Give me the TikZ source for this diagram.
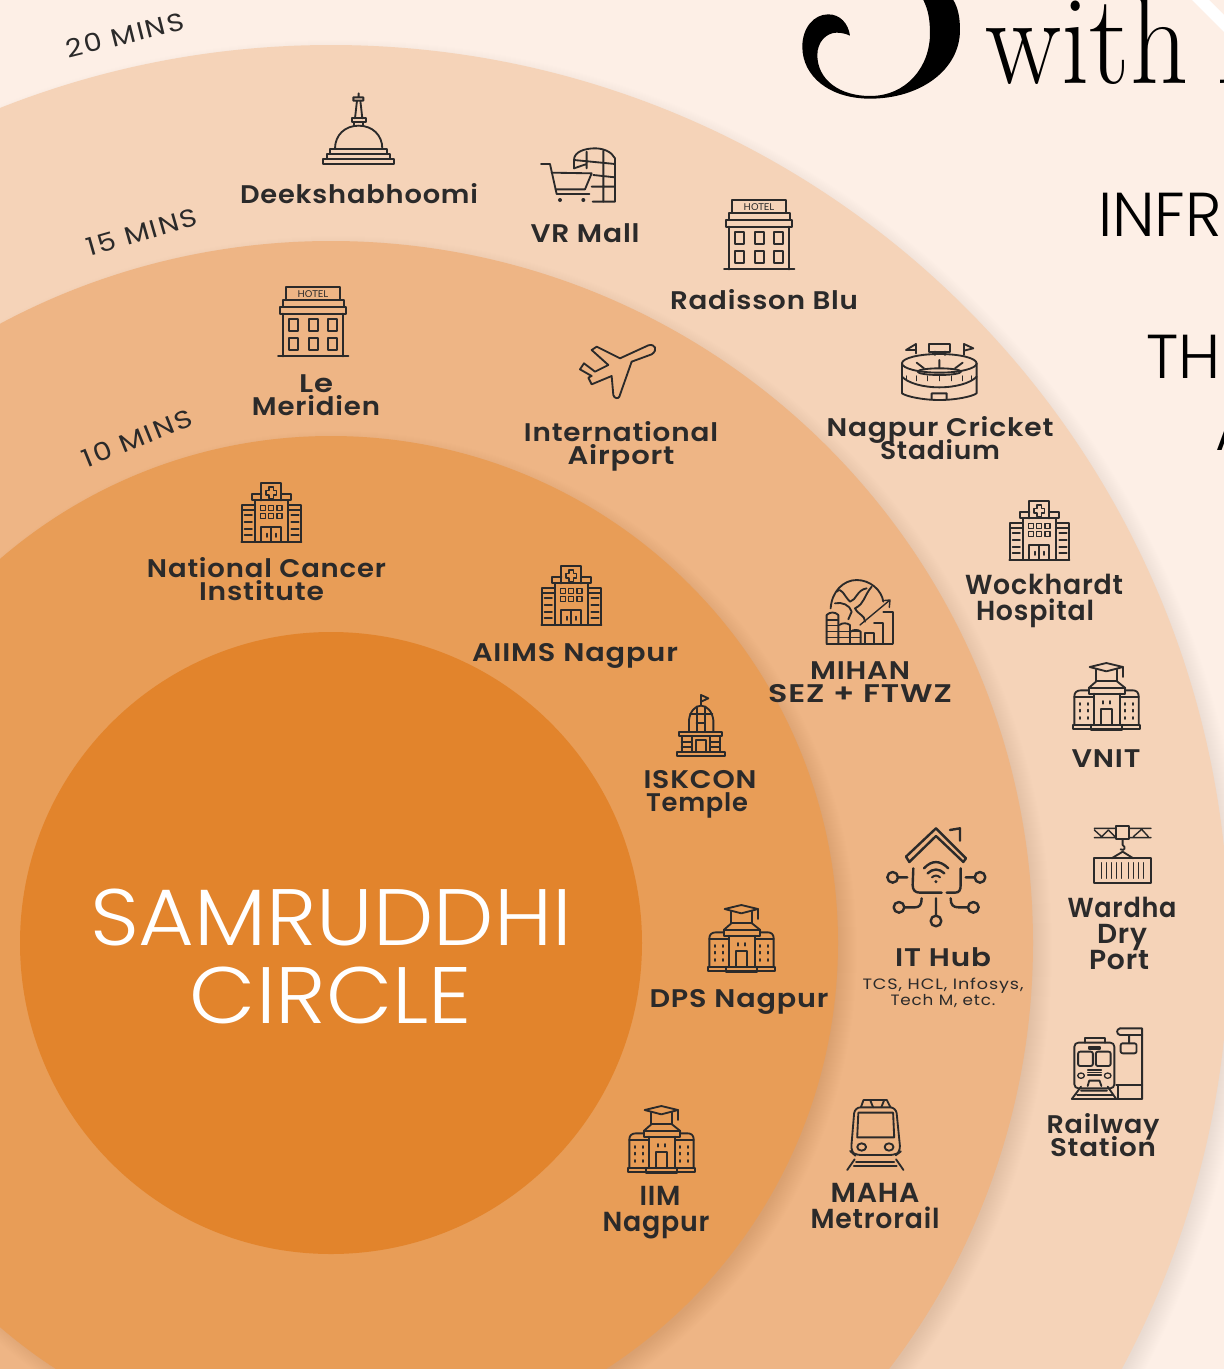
\documentclass[tikz,border=0pt]{standalone}
\usepackage{fontspec}
\usepackage{graphicx}
\newfontfamily\lbfont[LetterSpace=3]{Poppins SemiBold}
\newfontfamily\minsfont[LetterSpace=6]{Poppins}
\newfontfamily\smfont[LetterSpace=5]{Poppins}
\newfontfamily\lightfont{Poppins Light}
\newfontfamily\hotelfont{Lato}
\definecolor{bgc}{HTML}{FDEFE6}
\definecolor{ringa}{HTML}{F5D3B8}
\definecolor{ringb}{HTML}{EEB585}
\definecolor{ringc}{HTML}{E89D57}
\definecolor{core}{HTML}{E2842C}
\definecolor{ink}{HTML}{2B2A2A}
\newcommand\nolsl{\setlength{\lineskiplimit}{-100pt}\setlength{\lineskip}{0pt}}
\newcommand\fw[2]{\resizebox{#1pt}{!}{#2}}
\newcommand\ringdisc[4]{\foreach \i in {1,...,20}{\fill[#3,opacity=#4] (338,950) circle[radius=#1+\i-8];}\fill[#2] (331,943) circle[radius=#1];}
\newcommand\fx[2]{\sbox0{#2}\resizebox{#1pt}{\ht0}{#2}}
\tikzset{
  lb/.style={font=\lbfont\fontsize{25.5}{23}\selectfont\nolsl,text=ink,inner sep=0pt,align=center},
  lbb/.style={font=\lbfont\fontsize{27.5}{26}\selectfont\nolsl,text=ink,inner sep=0pt,align=center},
  lsm/.style={font=\smfont\fontsize{15}{16}\selectfont\nolsl,text=ink,inner sep=0pt,align=center},
  mins/.style={font=\minsfont\fontsize{25}{25}\selectfont,text=ink,inner sep=0pt},
  head/.style={font=\lightfont\fontsize{62}{62}\selectfont,text=black,inner sep=0pt,anchor=base west},
  sam/.style={font=\lightfont\fontsize{80}{78}\selectfont,text=white,inner sep=0pt,anchor=base},
  ic/.style={draw=ink,line width=1.85pt,line join=round,line cap=round},
  z3/.style={x=.33333pt,y=-.33333pt},
  zx/.style={x=.36996pt,y=-.33333pt},
  pics/hotel/.style={code={\begin{scope}[z3,shift={(-175,-622)}]
    \draw[ic] (200,622) rectangle (360,662) (190,662) rectangle (372,682) (182,682) rectangle (378,702)
      (190,702) -- (190,830) (370,702) -- (370,830) (175,830) -- (386,830);
    \foreach \xx in {208,268,325}{\foreach \yy in {718,775}{\draw[ic] (\xx,\yy) rectangle ++(28,37);}}
    \node[inner sep=0pt,text=ink,font=\hotelfont\fontsize{9.5}{9.5}\selectfont] at (280,643) {HOTEL};
  \end{scope}}},
  pics/hospital/.style={code={\begin{scope}[z3,shift={(-27,-18)}]
    \draw[ic] (88,70) -- (88,18) -- (148,18) -- (148,70);
    \draw[ic] (88,52) -- (60,52) -- (60,70) -- (176,70) -- (176,52) -- (148,52);
    \draw[ic] (68,70) -- (68,195) (168,70) -- (168,195) (28,195) -- (208,195);
    \draw[ic] (68,85) -- (30,85) -- (30,195) (168,85) -- (206,85) -- (206,195) (30,100) -- (68,100) (168,100) -- (206,100);
    \draw[ic,line width=1.5pt] (111,30) -- (125,30) -- (125,40) -- (134,40) -- (134,54) -- (125,54) -- (125,64) -- (111,64) -- (111,54) -- (102,54) -- (102,40) -- (111,40) -- cycle;
    \foreach \xx in {85,110,135}{\foreach \yy in {86,110}{\draw[ic,line width=1.5pt] (\xx,\yy) rectangle ++(15,15);}}
    \draw[ic] (88,195) -- (88,150) -- (148,150) -- (148,195) (118,150) -- (118,195);
    \foreach \yy in {115,135,155,175}{\draw[ic] (38,\yy) -- (60,\yy) (178,\yy) -- (200,\yy);}
    \draw[ic] (105,170) -- (105,180) (131,170) -- (131,180);
  \end{scope}}},
  pics/univ/.style={code={\begin{scope}[z3,shift={(-818,-310)}]
    \draw[ic] (868,322) -- (918,310) -- (968,322) -- (918,335) -- cycle;
    \draw[ic] (888,330) -- (888,365) -- (950,365) -- (950,330) (968,322) -- (968,352);
    \draw[ic] (888,365) -- (865,385) (950,365) -- (975,385);
    \draw[ic] (865,385) rectangle (975,402);
    \draw[ic] (880,402) -- (880,495) (960,402) -- (960,495);
    \draw[ic] (865,392) -- (842,392) .. controls (830,392) and (822,398) .. (822,410) -- (822,495);
    \draw[ic] (975,392) -- (997,392) .. controls (1008,392) and (1015,398) .. (1015,410) -- (1015,495);
    \draw[ic] (822,412) -- (880,412) (960,412) -- (1015,412);
    \draw[ic] (818,495) rectangle (1020,508) (872,495) -- (872,512) -- (966,512) -- (966,495);
    \draw[ic] (903,495) -- (903,448) -- (935,448) -- (935,495);
    \foreach \yy in {430,450,472}{\draw[ic] (838,\yy) -- (838,\yy+6) (862,\yy) -- (862,\yy+6) (975,\yy) -- (975,\yy+6) (998,\yy) -- (998,\yy+6);}
    \draw[ic] (907,424) -- (907,432) (930,424) -- (930,432);
  \end{scope}}}
}
\begin{document}
\begin{tikzpicture}[x=1pt,y=-1pt]
\useasboundingbox (0,0) rectangle (1224,1369);
\clip (0,0) rectangle (1224,1369);
\fill[bgc] (0,0) rectangle (1224,1369);
\ringdisc{898}{ringa}{black}{.0035}
\ringdisc{702}{ringb}{black}{.0045}
\ringdisc{507}{ringc}{black}{.0045}
\ringdisc{311}{core}{white}{.002}

% heading fragments
\begin{scope}[x=.33333pt,y=-.33333pt,shift={(2370,0)}]
\fill[black] (180,107) .. controls (175,70) and (150,43) .. (115,43) .. controls (70,43) and (37,85) .. (37,140)
 .. controls (37,230) and (120,296) .. (240,296) .. controls (390,296) and (510,210) .. (510,90)
 .. controls (510,55) and (505,25) .. (490,0) -- (400,0) .. controls (415,30) and (420,60) .. (420,100)
 .. controls (420,200) and (350,288) .. (240,288) .. controls (150,288) and (82,240) .. (82,165)
 .. controls (82,125) and (110,98) .. (140,98) .. controls (155,98) and (170,102) .. (180,107) -- cycle;
\end{scope}
\node[inner sep=0pt,anchor=base west,font=\fontsize{128}{128}\selectfont,text=black] (with) at (985,83) {\fx{203}{with}};
\node[inner sep=0pt,anchor=base west,font=\fontsize{128}{128}\selectfont,text=black] (withI) at (1214,83) {I};
\fill[white] (1192,0) -- (1224,32) -- (1224,15) -- (1209,0) -- cycle;
\node[head] (infr) at (1098,236) {INFR};
\node[head] (th) at (1146,378) {TH};
\node[head] (a) at (1215,450) {A};

% minute labels
\node[mins,rotate=14] (m20) at (125,35) {\fx{120}{20 MINS}};
\node[mins,rotate=16] (m15) at (142,232) {\fx{114}{15 MINS}};
\node[mins,rotate=22] (m10) at (137,438) {\fx{116}{10 MINS}};

% centre
\node[sam] (sama) at (331,945) {\fx{482}{SAMRUDDHI}};
\node[sam] (samb) at (331,1023) {\fx{282}{CIRCLE}};

% repeated icons
\pic at (278,287) {hotel};
\pic at (724,200) {hotel};
\pic at (1009,501) {hospital};
\pic at (241,483) {hospital};
\pic at (541,566) {hospital};
\pic at (1073,663) {univ};
\pic at (708,905) {univ};
\pic at (628,1106) {univ};

% stupa
\begin{scope}[z3,shift={(660,240)}]
\draw[ic] (308,236) rectangle (522,252) (322,222) rectangle (510,236) (330,206) rectangle (500,222);
\draw[ic] (345,206) .. controls (345,165) and (375,137) .. (416,137) .. controls (457,137) and (487,165) .. (487,206);
\draw[ic] (395,115) rectangle (437,127) (403,127) -- (403,137) (429,127) -- (429,137);
\draw[ic] (405,115) -- (411,62) (427,115) -- (421,62) (400,52) rectangle (430,62) (416,40) -- (416,52);
% cart and building
\draw[ic] (963,252) -- (990,252) -- (1010,342) -- (1108,342);
\draw[ic] (995,278) -- (1115,280) -- (1095,328) -- (1007,328);
\fill[ink] (1020,360) circle[radius=6] (1090,360) circle[radius=6];
\draw[ic] (1118,365) -- (1185,365) -- (1185,235) .. controls (1175,215) and (1150,205) .. (1125,205) .. controls (1095,205) and (1062,215) .. (1062,240) -- (1062,265);
\draw[ic] (1062,240) -- (1185,252) (1062,265) -- (1100,252) (1100,215) -- (1100,265) (1150,212) -- (1150,365) (1120,285) -- (1185,292) (1115,320) -- (1185,320);
% plane
\draw[ic] (1285,796) -- (1200,835) -- (1130,800) -- (1115,810) -- (1165,855) -- (1125,875) -- (1092,850) -- (1080,868) -- (1115,888) -- (1105,893) -- (1115,913) -- (1175,888) -- (1180,945) .. controls (1182,955) and (1195,958) .. (1198,950) -- (1235,845) -- (1295,823) .. controls (1315,810) and (1305,790) .. (1285,796) -- cycle;
\end{scope}

% stadium
\begin{scope}[z3,shift={(2340,0)}]
\draw[ic] (408,1060) -- (408,1032) -- (378,1050) -- (408,1050);
\draw[ic] (552,1065) -- (552,1032) -- (580,1045) -- (552,1052);
\draw[ic] (448,1032) rectangle (510,1055) (465,1055) -- (465,1065) (495,1055) -- (495,1065);
\draw[ic] (478,1090) ellipse[x radius=112,y radius=28];
\draw[ic] (478,1115) ellipse[x radius=65,y radius=10];
\draw[ic] (366,1090) -- (366,1180) .. controls (380,1190) and (430,1200) .. (478,1200) .. controls (526,1200) and (576,1190) .. (590,1180) -- (590,1090);
\draw[ic] (366,1130) .. controls (385,1150) and (430,1162) .. (478,1162) .. controls (526,1162) and (571,1150) .. (590,1130);
\foreach \xx in {380,410,442,478,515,548,575}{\draw[ic,line width=1.3pt] (\xx,1128) -- (\xx,1142);}
\draw[ic] (410,1088) -- (432,1105) (478,1080) -- (478,1103) (548,1088) -- (525,1105) (455,1198) -- (455,1180) -- (500,1180) -- (500,1198);
\end{scope}

% temple
\begin{scope}[z3,shift={(1995,2070)}]
\draw[ic] (108,45) -- (108,15) -- (130,25) -- (108,35);
\draw[ic] (72,125) -- (72,90) .. controls (75,65) and (90,47) .. (108,47) .. controls (126,47) and (142,65) .. (145,90) -- (145,125);
\draw[ic] (75,72) -- (142,72) (95,50) -- (95,125) (120,50) -- (120,125) (95,100) -- (120,100);
\draw[ic] (42,125) rectangle (172,138) (35,185) rectangle (180,198);
\draw[ic] (50,138) -- (50,185) (80,138) -- (80,185) (135,138) -- (135,185) (165,138) -- (165,185);
\draw[ic] (50,155) -- (80,155) (50,170) -- (80,170) (135,155) -- (165,155) (135,170) -- (165,170);
\draw[ic] (92,185) -- (92,150) -- (122,150) -- (122,185);
\end{scope}

\begin{scope}[z3,shift={(2400,1680)}]
% globe
\draw[ic] (92,145) .. controls (95,95) and (130,60) .. (170,60) .. controls (210,60) and (245,90) .. (250,125);
\draw[ic] (110,95) .. controls (125,80) and (130,105) .. (150,125) .. controls (170,120) and (170,90) .. (200,85);
\draw[ic] (215,80) .. controls (190,110) and (195,130) .. (165,145) .. controls (175,165) and (195,165) .. (195,185);
\draw[ic] (105,130) .. controls (125,125) and (150,135) .. (155,155) -- (145,178);
\draw[ic] (80,165) -- (80,250) (115,165) -- (115,250) (80,165) .. controls (90,155) and (105,155) .. (115,165);
\foreach \yy in {180,197,214,232}{\draw[ic,line width=1.4pt] (80,\yy) -- (115,\yy);}
\draw[ic] (150,195) -- (150,250) (118,195) .. controls (128,188) and (140,188) .. (150,195);
\foreach \yy in {214,232}{\draw[ic,line width=1.4pt] (115,\yy) -- (182,\yy);}
\draw[ic] (182,215) -- (182,250) (152,215) .. controls (160,208) and (175,208) .. (182,215);
\draw[ic] (80,252) -- (278,252) (195,250) -- (195,220) -- (222,220) -- (222,250) (222,190) -- (250,190) -- (250,250) (250,155) -- (278,155) -- (278,250);
\draw[ic,line width=1.4pt] (180,195) -- (270,120) (248,122) -- (270,120) -- (268,142);
% IT hub
\draw[ic,line width=2.4pt] (318,890) -- (408,805) -- (498,895) -- (490,906) -- (408,828) -- (328,906) -- cycle;
\draw[ic,line width=2.4pt] (450,810) -- (480,805) -- (480,842);
\draw[ic,line width=2.4pt] (340,925) -- (338,975) .. controls (338,990) and (345,998) .. (360,998) -- (425,998) (440,998) -- (465,998) .. controls (478,998) and (482,990) .. (482,975) -- (482,925);
\draw[ic,line width=2.4pt] (372,925) .. controls (395,900) and (420,900) .. (445,925) (383,940) .. controls (398,925) and (418,925) .. (433,940);
\fill[ink] (408,965) circle[radius=5];
\draw[ic,line width=2pt] (396,952) .. controls (404,945) and (412,945) .. (420,952);
\foreach \pp/\qq in {278/952,540/952,297/1042,520/1042,408/1083}{\draw[ic,line width=2.4pt] (\pp,\qq) circle[radius=16];}
\draw[ic,line width=2.4pt] (294,952) -- (322,952) (497,952) -- (524,952) (313,1042) -- (345,1042) .. controls (358,1042) and (365,1035) .. (365,1015);
\draw[ic,line width=2.4pt] (504,1042) -- (475,1042) .. controls (460,1042) and (452,1035) .. (452,1015) (408,1067) -- (408,1015);
% crane
\draw[ic,line width=1.4pt] (883,805) -- (945,805) (883,833) -- (945,833) (883,810) -- (905,830) -- (925,810) -- (945,830);
\draw[ic,line width=1.4pt] (990,805) -- (1053,805) (990,833) -- (1053,833) (1000,830) -- (1025,808) -- (1045,830);
\draw[ic] (948,798) rectangle (988,838);
\draw[ic] (968,838) -- (968,855) .. controls (978,860) and (975,875) .. (962,868);
\draw[ic] (935,895) -- (968,875) -- (1000,895);
\draw[ic] (883,895) -- (1053,895) -- (1053,968) -- (883,968) -- cycle;
\foreach \xx in {905,920,935,950,965,985,1000,1015,1030}{\draw[ic,line width=1.3pt] (\xx,908) -- (\xx,955);}
\end{scope}

% railway, metro
\begin{scope}[zx,shift={(1622,3060)}]
\draw[ic,rounded corners=4pt] (1282,68) rectangle (1390,205);
\draw[ic] (1310,68) -- (1310,55) -- (1365,55) -- (1365,68) (1322,80) rectangle (1352,88);
\draw[ic,rounded corners=2pt] (1292,95) rectangle (1332,138) (1340,95) rectangle (1380,138);
\draw[ic,line width=1.3pt] (1318,150) -- (1355,150) (1318,157) -- (1355,157) (1318,165) -- (1355,165);
\draw[ic,line width=1.3pt] (1300,167) ellipse[x radius=9,y radius=8] (1372,167) ellipse[x radius=9,y radius=8];
\draw[ic] (1318,198) -- (1322,182) -- (1350,182) -- (1355,198);
\draw[ic] (1275,237) -- (1300,200) (1395,237) -- (1372,200) (1300,212) -- (1370,212) (1290,225) -- (1385,225) (1275,237) -- (1465,237) -- (1465,25) -- (1405,25);
\draw[ic] (1405,25) .. controls (1395,28) and (1395,42) .. (1405,45) -- (1465,45) (1430,45) -- (1430,70);
\draw[ic,rounded corners=2pt] (1407,70) rectangle (1450,100);
\draw[ic] (1395,195) -- (1465,195) (1400,195) -- (1400,237);
% metro
\draw[ic,rounded corners=6pt] (688,262) -- (800,262) -- (812,395) -- (800,405) -- (688,405) -- (678,395) -- cycle;
\draw[ic] (705,262) -- (712,240) -- (775,240) -- (785,262) (730,240) -- (738,262) (768,240) -- (760,262);
\draw[ic] (698,278) -- (792,278) -- (795,352) -- (695,352) -- cycle;
\draw[ic] (707,381) ellipse[x radius=12,y radius=11] (781,381) ellipse[x radius=12,y radius=11];
\draw[ic] (668,450) -- (688,418) (820,450) -- (800,418) (692,426) -- (795,426) (686,438) -- (802,438);
\end{scope}

% labels
\node[lb,anchor=base] (deek) at (359,203) {\fx{238}{Deekshabhoomi}};
\node[lb,anchor=base] (vr) at (585,242) {\fx{109}{VR Mall}};
\node[lb,anchor=base] (rad) at (764,309) {\fx{188}{Radisson Blu}};
\node[lb] (le) at (316,395) {\fx{34}{Le}\\\fx{128}{Meridien}};
\node[lb] (intl) at (621,446) {\fx{194}{International}\\\fx{107}{Airport}};
\node[lb] (crk) at (940,438) {\fx{227}{Nagpur Cricket}\\\fx{120}{Stadium}};
\node[lbb] (wock) at (1044,601) {\fx{158}{Wockhardt}\\\fx{118}{Hospital}\hspace*{18pt}};
\node[lb] (nci) at (266.5,579) {\fx{239}{National Cancer}\\\fx{125}{Institute}\hspace*{10pt}};
\node[lb,anchor=base] (aiims) at (575,661) {\fx{206}{AIIMS Nagpur}};
\node[lb] (mihan) at (860,682.5) {\fx{100}{MIHAN}\\\fx{184}{SEZ + FTWZ}};
\node[lb] (isk) at (700,794) {\fx{113}{ISKCON}\\\fx{102}{Temple}\hspace*{6pt}};
\node[lb,anchor=base] (vnit) at (1106,767) {\fx{69}{VNIT}};
\node[lb,anchor=base] (ithub) at (943,966) {\fx{96}{IT Hub}};
\node[lsm] (its) at (943,993) {\fx{161}{TCS, HCL, Infosys,}\\\fx{105}{Tech M, etc.}};
\node[lb,anchor=base] (dps) at (739,1007) {\fx{179}{DPS Nagpur}};
\node[lbb] (war) at (1122,933.5) {\fx{109}{Wardha}\\\fx{50}{Dry}\hspace*{8pt}\\\fx{60}{Port}\hspace*{6pt}};
\node[lb] (rail) at (1103,1135) {\fx{113}{Railway}\\\fx{106}{Station}};
\node[lbb] (iim) at (656,1213) {\hspace*{8pt}\fx{41}{IIM}\\\fx{107}{Nagpur}};
\node[lbb] (maha) at (875,1206) {\fx{89}{MAHA}\\\fx{129}{Metrorail}};
\end{tikzpicture}
\end{document}
